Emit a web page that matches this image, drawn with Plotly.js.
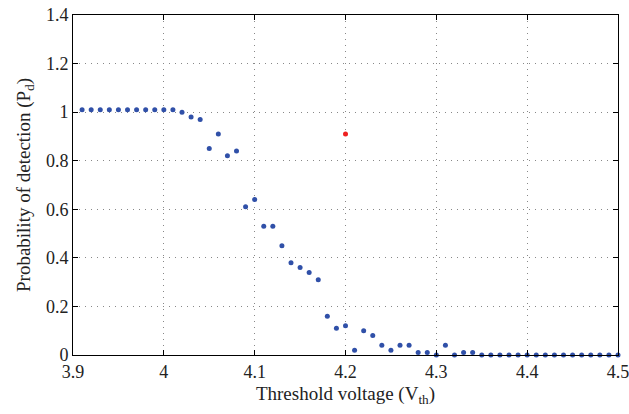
<!DOCTYPE html>
<html>
<head>
<meta charset="utf-8">
<script src="https://cdn.plot.ly/plotly-3.0.1.min.js"></script>
<style>
html,body{margin:0;padding:0;background:#fff;}
#chart{width:629px;height:414px;}
#fontwarm{position:absolute;left:0;top:0;font-family:'Liberation Serif';font-size:18px;color:#fff;opacity:0.01;pointer-events:none;}
</style>
</head>
<body>
<div id="fontwarm">0.1234</div>
<div id="chart"></div>
<script>
var thresholds = [3.91,3.92,3.93,3.94,3.95,3.96,3.97,3.98,3.99,4.00,4.01,4.02,4.03,4.04,4.05,4.06,4.07,4.08,4.09,4.10,
  4.11,4.12,4.13,4.14,4.15,4.16,4.17,4.18,4.19,4.20,4.21,4.22,4.23,4.24,4.25,4.26,4.27,4.28,4.29,4.30,
  4.31,4.32,4.33,4.34,4.35,4.36,4.37,4.38,4.39,4.40,4.41,4.42,4.43,4.44,4.45,4.46,4.47,4.48,4.49,4.50];
var pd = [1.01,1.01,1.01,1.01,1.01,1.01,1.01,1.01,1.01,1.01,1.01,1.00,0.98,0.97,0.85,0.91,0.82,0.84,0.61,0.64,
  0.53,0.53,0.45,0.38,0.36,0.34,0.31,0.16,0.11,0.12,0.02,0.10,0.08,0.04,0.02,0.04,0.04,0.01,0.01,0.00,
  0.04,0.00,0.01,0.01,0,0,0,0,0,0,0,0,0,0,0,0,0,0,0,0];
var highlightX = [4.2];
var highlightY = [0.91];
var xTicks = [3.9,4.0,4.1,4.2,4.3,4.4,4.5];
var xTickLabels = ['3.9','4','4.1','4.2','4.3','4.4','4.5'];
var yTicks = [0,0.2,0.4,0.6,0.8,1.0,1.2,1.4];
var yTickLabels = ['0','0.2','0.4','0.6','0.8','1','1.2','1.4'];

var fam = 'Liberation Serif';

function makeAxis(extra) {
  var ax = {
    showline: true, linecolor: '#000', linewidth: 1, mirror: 'ticks',
    ticks: 'inside', ticklen: 5, tickcolor: '#000',
    showgrid: true, gridcolor: '#888', griddash: '1px,5px', gridwidth: 1,
    zeroline: false, ticklabeloverflow: 'allow',
    tickfont: {family: fam, size: 18, color: '#222'}
  };
  for (var k in extra) ax[k] = extra[k];
  return ax;
}

function draw() {
  var data = [
    {x: thresholds, y: pd, type: 'scatter', mode: 'markers', cliponaxis: false,
     marker: {color: '#3050a8', size: 5}, showlegend: false},
    {x: highlightX, y: highlightY, type: 'scatter', mode: 'markers', cliponaxis: false,
     marker: {color: '#ee2020', size: 5}, showlegend: false}
  ];
  var layout = {
    width: 629, height: 414,
    margin: {l: 73, r: 11, t: 15, b: 59},
    paper_bgcolor: '#fff', plot_bgcolor: '#fff',
    font: {family: fam, color: '#222'},
    xaxis: makeAxis({
      range: [3.9, 4.5], tickvals: xTicks, ticktext: xTickLabels,
      title: {text: 'Threshold voltage (V<sub>th</sub>)', font: {family: fam, size: 19, color: '#222'}, standoff: 6}
    }),
    yaxis: makeAxis({
      range: [0, 1.4], tickvals: yTicks, ticktext: yTickLabels,
      title: {text: 'Probability of detection (P<sub>d</sub>)', font: {family: fam, size: 19, color: '#222'}, standoff: 10}
    })
  };
  return Plotly.newPlot('chart', data, layout, {displayModeBar: false, staticPlot: true});
}

draw();
if (document.fonts && document.fonts.load) {
  document.fonts.load('18px "Liberation Serif"').then(function(){ draw(); }).catch(function(){});
}
</script>
</body>
</html>
